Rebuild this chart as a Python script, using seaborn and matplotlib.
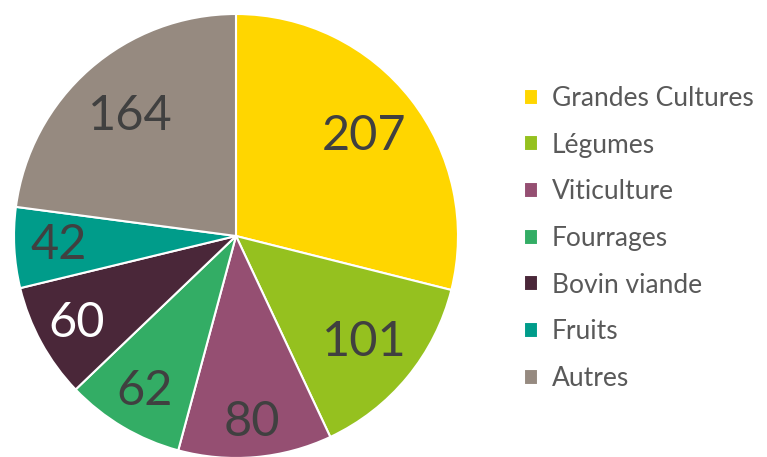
import matplotlib
matplotlib.use("Agg")
import matplotlib.pyplot as plt
import seaborn as sns
import numpy as np

# data
categories = ["Grandes Cultures", "Légumes", "Viticulture", "Fourrages",
              "Bovin viande", "Fruits", "Autres"]
values = [207, 101, 80, 62, 60, 42, 164]
colors = ["#FFD600", "#95C11F", "#954F72", "#33AD65", "#4A2739", "#009C8A", "#968A80"]
label_colors = ["#404040", "#404040", "#404040", "#404040", "white", "#404040", "#404040"]
label_dist = [0.73, 0.75, 0.84, 0.81, 0.82, 0.80, 0.72]

sns.set_theme(style="white")
plt.rcParams['font.family'] = ['Lato', 'DejaVu Sans']

fig = plt.figure(figsize=(7.67, 4.57), dpi=100)
W, H = 767, 457
cx, cy, r = 236, 236, 222
ax = fig.add_axes([(cx - r) / W, (H - cy - r) / H, 2 * r / W, 2 * r / H])

wedges, _ = ax.pie(values, colors=colors, startangle=90, counterclock=False,
                   radius=1, wedgeprops=dict(edgecolor="white", linewidth=1.5))

# value labels
for w, v, c, d in zip(wedges, values, label_colors, label_dist):
    ang = np.deg2rad((w.theta1 + w.theta2) / 2)
    ax.text(d * np.cos(ang), d * np.sin(ang), str(v), ha="center", va="center",
            fontsize=35, color=c)

ax.set_xlim(-1, 1)
ax.set_ylim(-1, 1)
ax.set_aspect("equal")
ax.axis("off")

fig.legend(wedges, categories, loc="center left", bbox_to_anchor=(0.652, 0.478),
           frameon=False, fontsize=19, labelcolor="#595959",
           handlelength=0.55, handleheight=0.55, handletextpad=0.5,
           labelspacing=0.82)

fig.savefig("out.png", dpi=100)
